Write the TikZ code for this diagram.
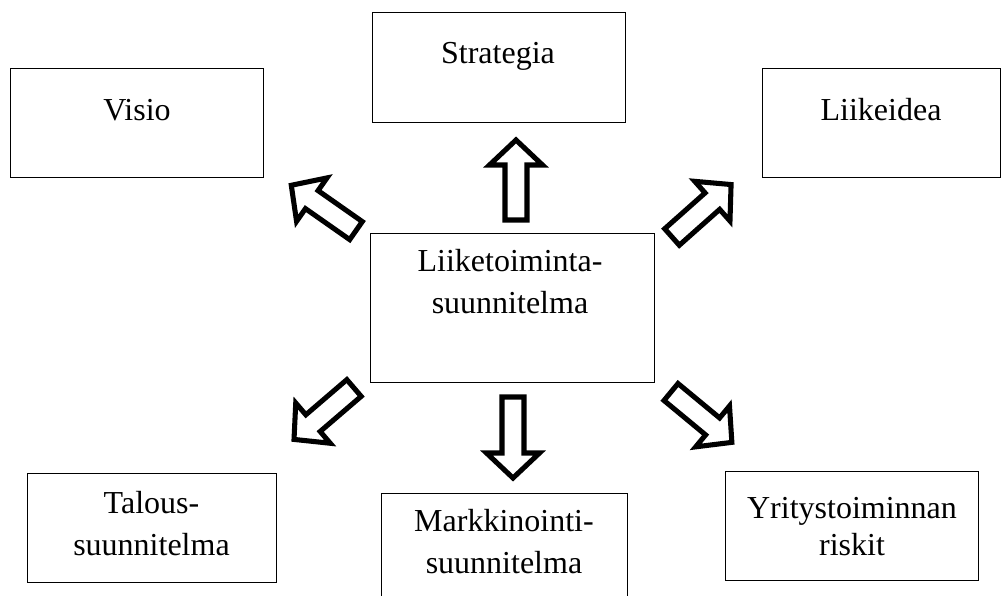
\documentclass[tikz,border=0pt]{standalone}
\usepackage{fontspec}
\setmainfont{Liberation Serif}
\newcommand\blockarrow[4]{% name, tail, angle, length
  \begin{scope}[shift={#2}, rotate=#3]
    \coordinate (#1) at (0,0);
    \draw[barrow] (0,-11) -- ({#4-25},-11) -- ({#4-25},-26.5) -- (#4,0)
      -- ({#4-25},26.5) -- ({#4-25},11) -- (0,11) -- cycle;
  \end{scope}}
\begin{document}
\begin{tikzpicture}[x=0.75pt,y=-0.75pt,
  box/.style={draw, line width=1pt, rectangle, inner sep=0pt, anchor=north west},
  lbl/.style={font=\fontsize{24}{31}\selectfont, align=center, anchor=base, inner sep=0pt},
  barrow/.style={draw, line width=3.8pt, line join=miter, miter limit=10}]
\useasboundingbox (0,0) rectangle (1007,596);
\clip (0,0) rectangle (1007,596);
% boxes
\node[box, minimum width=189.75pt, minimum height=82.5pt]  (strategia) at (372,12) {};
\node[box, minimum width=189.75pt, minimum height=81.75pt] (visio) at (10,68) {};
\node[box, minimum width=178.5pt,  minimum height=81.75pt] (liikeidea) at (762,68) {};
\node[box, minimum width=213pt,    minimum height=111.75pt] (center) at (370,233) {};
\node[box, minimum width=186.75pt, minimum height=81.75pt] (talous) at (27,473) {};
\node[box, minimum width=184.5pt,  minimum height=90pt]    (markk) at (381,493) {};
\node[box, minimum width=189.75pt, minimum height=81.75pt] (riskit) at (725,471) {};
% texts (anchor base = last line)
\node[lbl] (strategia-t) at (498,63) {Strategia};
\node[lbl] (visio-t) at (137,120) {Visio};
\node[lbl] (liikeidea-t) at (881,120) {Liikeidea};
\node[lbl] (center-t) at (510,313) {Liiketoiminta-\\suunnitelma};
\node[lbl] (talous-t) at (151.5,555) {Talous-\\suunnitelma};
\node[lbl] (markk-t) at (504,573) {Markkinointi-\\suunnitelma};
\node[lbl, font=\fontsize{24}{27.5}\selectfont] (riskit-t) at (852,555) {Yritystoiminnan\\riskit};
% arrows
\blockarrow{aup}{(516,220)}{90}{80}
\blockarrow{adown}{(513,397)}{-90}{81}
\blockarrow{aul}{(356,230.6)}{145}{79}
\blockarrow{aur}{(672,237)}{41.6}{79}
\blockarrow{all}{(354,388)}{220.6}{79}
\blockarrow{alr}{(671,392)}{-39.6}{79}
\end{tikzpicture}
\end{document}
